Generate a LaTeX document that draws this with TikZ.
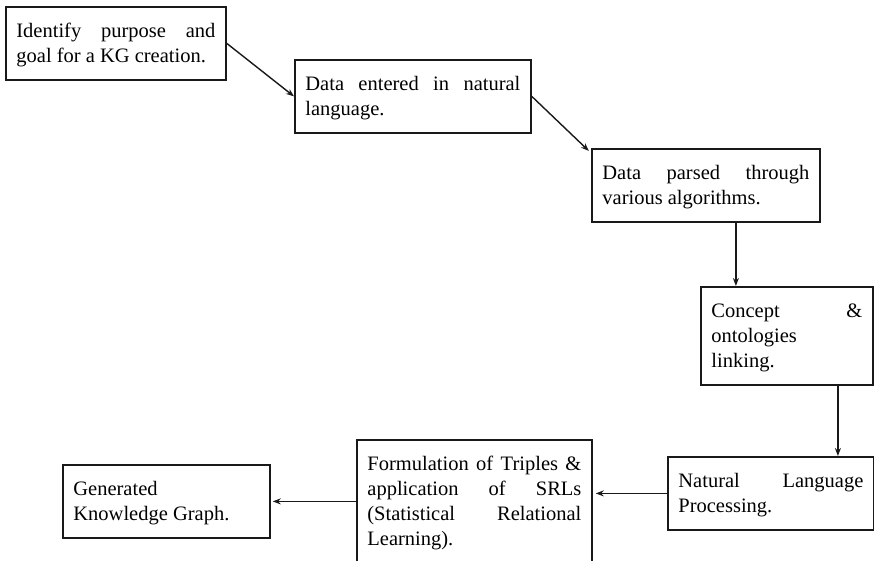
\documentclass[tikz,border=0pt]{standalone}
\usepackage{fontspec}
\setmainfont{Liberation Serif}
\usetikzlibrary{arrows.meta}

% struts that fix the first baseline and the last depth of each box
\newcommand\kgtop{\rule{0pt}{19pt}}
\newcommand\kgbot{\rule[-6pt]{0pt}{6pt}}

\begin{document}
\begin{tikzpicture}[x=1pt, y=-1pt,
  kgbox/.style={draw=black!90, line width=1.8pt, align=justify,
    inner xsep=10.5pt, inner ysep=11.5pt, anchor=north west,
    text=black, font=\fontsize{20.5}{25}\selectfont},
  flow/.style={draw=black!90, line width=1.4pt,
    -{Stealth[length=8pt,width=6pt]}}]
\useasboundingbox (0,0) rectangle (874,561);

\node[kgbox, text width=199pt] (purpose) at (5,6)
  {\kgtop Identify purpose and\linebreak goal for a KG creation.\kgbot};
\node[kgbox, text width=215pt] (entered) at (294,59)
  {\kgtop Data entered in natural\linebreak language.\kgbot};
\node[kgbox, text width=207pt] (parsed) at (591,148)
  {\kgtop Data parsed through\linebreak various algorithms.\kgbot};
\node[kgbox, text width=151pt] (linking) at (700,286)
  {\kgtop Concept \&\linebreak ontologies\newline linking.\kgbot};
\node[kgbox, text width=185pt] (nlp) at (667,456)
  {\kgtop Natural Language\linebreak Processing.\kgbot};
\node[kgbox, text width=214pt] (triples) at (356,439)
  {\kgtop Formulation of Triples \&\linebreak application of SRLs\linebreak
   (Statistical Relational\linebreak Learning).\kgbot};
\node[kgbox, text width=186pt] (graph) at (62,464)
  {\kgtop Generated\newline Knowledge Graph.\kgbot};

\draw[flow] (purpose.east) -- (entered.west);
\draw[flow, shorten >=3pt] (entered.east) -- ([yshift=-5pt]parsed.north west);
\draw[flow] ([xshift=30pt]parsed.south) -- ([xshift=30pt]parsed.south |- linking.north);
\draw[flow] ([xshift=51pt]linking.south) -- ([xshift=51pt]linking.south |- nlp.north);
\draw[flow, shorten >=3pt] (nlp.west) -- (nlp.west -| triples.east);
\draw[flow, shorten >=2pt] (triples.west) -- (graph.east);
\end{tikzpicture}
\end{document}
